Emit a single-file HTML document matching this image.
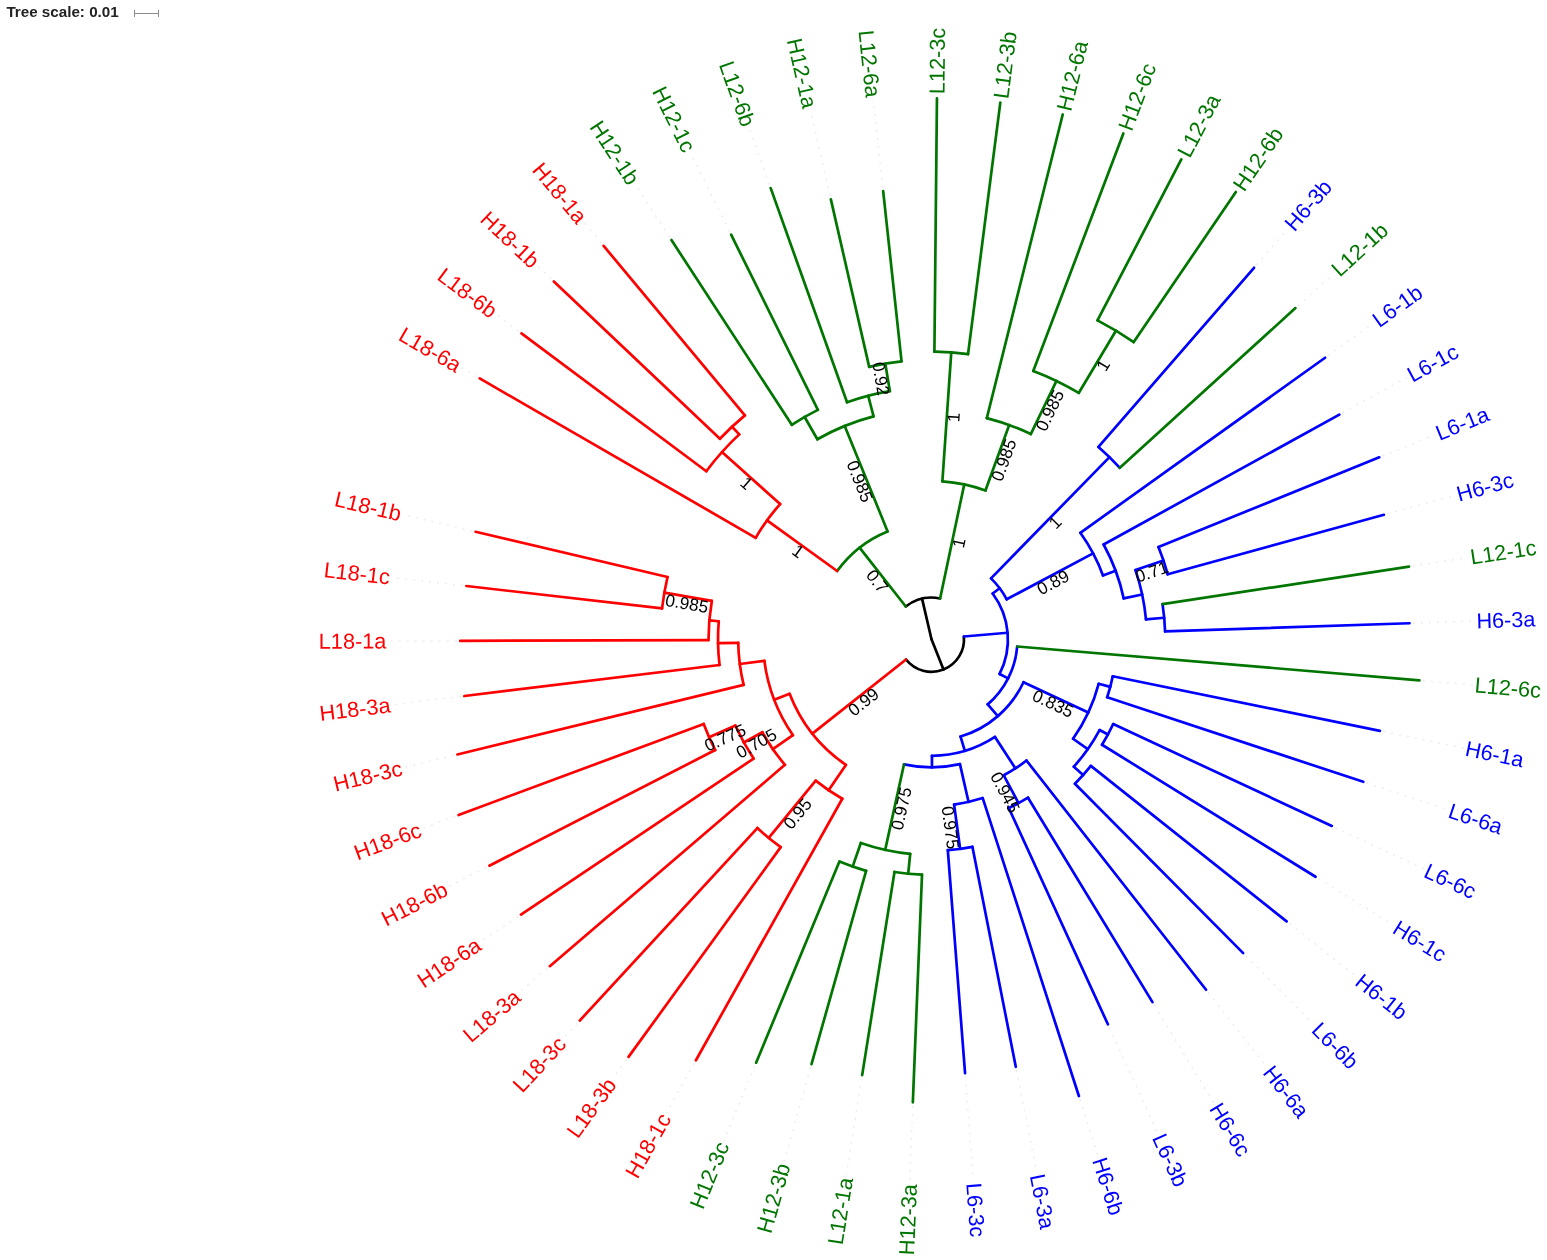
<!DOCTYPE html>
<html><head><meta charset="utf-8"><title>Tree</title>
<style>html,body{margin:0;padding:0;background:#fff}svg{display:block}</style>
</head><body>
<svg width="1547" height="1260" viewBox="0 0 1547 1260">
<rect width="1547" height="1260" fill="#fff"/>
<text x="6.4" y="16.8" font-family="'Liberation Sans',Arial,sans-serif" font-size="15.2" font-weight="bold" fill="#222">Tree scale: 0.01</text>
<path d="M134 13.5H159M134.5 10V17M158.5 10V17" stroke="#8c8c8c" stroke-width="1" fill="none"/>
<g stroke="#ededed" stroke-width="1.5" stroke-dasharray="2 6" fill="none">
<path d="M476.66 376.7L461.08 367.7"/>
<path d="M518.67 331.24L496.15 314.44"/>
<path d="M551.31 279L537.23 265.65"/>
<path d="M601.41 243.22L583.74 222.02"/>
<path d="M669.53 237.09L635.04 184.13"/>
<path d="M729.57 231.56L690.43 152.52"/>
<path d="M769.52 184.8L749.15 127.62"/>
<path d="M830.08 195.95L810.37 109.78"/>
<path d="M882.8 187.62L873.27 99.23"/>
<path d="M1256.33 265.12L1287.6 229.1"/>
<path d="M1298.02 305.71L1333.22 273.67"/>
<path d="M1327.92 355.73L1373.3 323.27"/>
<path d="M1342.39 412.98L1407.3 377.23"/>
<path d="M1382.48 456.03L1434.74 434.8"/>
<path d="M1387.26 513.89L1455.24 495.19"/>
<path d="M1412.46 566.1L1468.52 557.57"/>
<path d="M1413.03 623.13L1474.39 621.07"/>
<path d="M1422.87 680.63L1472.79 684.83"/>
<path d="M1383.38 731.55L1463.72 747.95"/>
<path d="M1366.6 782.94L1447.32 809.58"/>
<path d="M1334.99 827.45L1423.81 868.87"/>
<path d="M1318.49 878.6L1393.51 924.98"/>
<path d="M1289.34 923.55L1356.84 977.16"/>
<path d="M1245.67 955.58L1314.31 1024.69"/>
<path d="M1208.22 992.51L1266.5 1066.9"/>
<path d="M1154.3 1005.09L1214.08 1103.21"/>
<path d="M1109.36 1027.5L1157.76 1133.14"/>
<path d="M1079.95 1099.34L1098.32 1156.25"/>
<path d="M1016.46 1070.2L1036.58 1172.24"/>
<path d="M965.33 1076.69L973.39 1180.88"/>
<path d="M912.7 1105.82L909.63 1182.06"/>
<path d="M861.62 1078.58L846.16 1175.76"/>
<path d="M810.57 1067.55L783.88 1162.06"/>
<path d="M754.78 1065.95L723.63 1141.15"/>
<path d="M694.22 1063.33L666.24 1113.33"/>
<path d="M626.49 1059.71L612.51 1078.97"/>
<path d="M577.42 1023.12L563.18 1038.56"/>
<path d="M547.18 968.44L518.92 992.63"/>
<path d="M518.06 916.56L480.35 941.84"/>
<path d="M486.28 867.28L448 886.88"/>
<path d="M455.31 816.25L422.32 828.51"/>
<path d="M453.99 755.3L403.65 767.53"/>
<path d="M460.86 696.45L392.26 704.78"/>
<path d="M456.7 640.89L388.3 641.12"/>
<path d="M462.87 585.59L391.83 577.45"/>
<path d="M472.2 530.99L402.8 514.62"/>
</g>
<g fill="none" stroke-width="2.7" stroke-linecap="round" stroke-linejoin="round">
<path d="M931.5 639.3L922.05 598.68" stroke="#000000"/>
<path d="M905.76 606.5A41.7 41.7 0 0 1 940.12 598.5" stroke="#000000"/>
<path d="M905.76 606.5L859.58 547.65" stroke="#007600"/>
<path d="M837.12 571.01A116.5 116.5 0 0 1 887.6 531.39" stroke="#007600"/>
<path d="M837.12 571.01L767.04 520.3" stroke="#ff0000"/>
<path d="M755.7 537.8A203 203 0 0 1 780.12 504.05" stroke="#ff0000"/>
<path d="M755.7 537.8L479.69 378.45" stroke="#ff0000"/>
<path d="M780.12 504.05L721.95 452.08" stroke="#ff0000"/>
<path d="M706.29 471.25A281 281 0 0 1 739.24 434.37" stroke="#ff0000"/>
<path d="M706.29 471.25L521.48 333.33" stroke="#ff0000"/>
<path d="M739.24 434.37L732.05 426.71" stroke="#ff0000"/>
<path d="M719.92 438.79A291.5 291.5 0 0 1 744.88 415.37" stroke="#ff0000"/>
<path d="M719.92 438.79L553.85 281.4" stroke="#ff0000"/>
<path d="M744.88 415.37L603.65 245.91" stroke="#ff0000"/>
<path d="M887.6 531.39L844.71 425.98" stroke="#007600"/>
<path d="M817.36 439.28A230.3 230.3 0 0 1 873.58 416.4" stroke="#007600"/>
<path d="M817.36 439.28L804.62 416.96" stroke="#007600"/>
<path d="M791.78 424.79A256 256 0 0 1 817.89 409.89" stroke="#007600"/>
<path d="M791.78 424.79L671.44 240.02" stroke="#007600"/>
<path d="M817.89 409.89L731.13 234.7" stroke="#007600"/>
<path d="M873.58 416.4L868.22 395.79" stroke="#007600"/>
<path d="M847.04 402.3A251.6 251.6 0 0 1 889.89 391.16" stroke="#007600"/>
<path d="M847.04 402.3L770.7 188.1" stroke="#007600"/>
<path d="M889.89 391.16L885.28 363.65" stroke="#007600"/>
<path d="M869.17 366.84A279.5 279.5 0 0 1 901.54 361.41" stroke="#007600"/>
<path d="M869.17 366.84L830.87 199.36" stroke="#007600"/>
<path d="M901.54 361.41L883.17 191.1" stroke="#007600"/>
<path d="M940.12 598.5L964.24 484.42" stroke="#007600"/>
<path d="M942.38 481.37A158.3 158.3 0 0 1 985.45 490.48" stroke="#007600"/>
<path d="M942.38 481.37L951.27 352.38" stroke="#007600"/>
<path d="M934.4 351.71A287.6 287.6 0 0 1 968.08 354.04" stroke="#007600"/>
<path d="M934.4 351.71L936.95 98.33" stroke="#007600"/>
<path d="M968.08 354.04L1000.31 102.69" stroke="#007600"/>
<path d="M985.45 490.48L1009.21 424.95" stroke="#007600"/>
<path d="M986.81 418.11A228 228 0 0 1 1030.79 434.06" stroke="#007600"/>
<path d="M986.81 418.11L1062.73 114.46" stroke="#007600"/>
<path d="M1030.79 434.06L1056.49 380.95" stroke="#007600"/>
<path d="M1033.27 370.95A287 287 0 0 1 1078.74 392.95" stroke="#007600"/>
<path d="M1033.27 370.95L1123.34 133.46" stroke="#007600"/>
<path d="M1078.74 392.95L1115.93 330.71" stroke="#007600"/>
<path d="M1097.5 320.42A359.5 359.5 0 0 1 1133.73 342.07" stroke="#007600"/>
<path d="M1097.5 320.42L1181.31 159.43" stroke="#007600"/>
<path d="M1133.73 342.07L1235.83 192.01" stroke="#007600"/>
<path d="M931.5 639.3L943.49 669.51" stroke="#000000"/>
<path d="M963.88 636.51A32.5 32.5 0 0 1 906.02 659.47" stroke="#000000"/>
<path d="M963.88 636.51L1007.62 632.75" stroke="#0000ff"/>
<path d="M992.64 593.49A76.4 76.4 0 0 1 999.57 673.98" stroke="#0000ff"/>
<path d="M992.64 593.49L999.69 588.22" stroke="#0000ff"/>
<path d="M991.03 578.35A85.2 85.2 0 0 1 1006.72 599.29" stroke="#0000ff"/>
<path d="M991.03 578.35L1109.47 457.1" stroke="#0000ff"/>
<path d="M1098.47 446.96A254.7 254.7 0 0 1 1119.86 467.86" stroke="#0000ff"/>
<path d="M1098.47 446.96L1254.03 267.77" stroke="#0000ff"/>
<path d="M1119.86 467.86L1295.43 308.06" stroke="#007600"/>
<path d="M1006.72 599.29L1093.07 553.37" stroke="#0000ff"/>
<path d="M1080.34 532.83A183 183 0 0 1 1102.99 575.41" stroke="#0000ff"/>
<path d="M1080.34 532.83L1325.07 357.77" stroke="#0000ff"/>
<path d="M1102.99 575.41L1115.64 570.7" stroke="#0000ff"/>
<path d="M1103.62 544.5A196.5 196.5 0 0 1 1123.69 598.38" stroke="#0000ff"/>
<path d="M1103.62 544.5L1339.33 414.67" stroke="#0000ff"/>
<path d="M1123.69 598.38L1142.18 594.45" stroke="#0000ff"/>
<path d="M1135.47 570.06A215.4 215.4 0 0 1 1145.98 619.45" stroke="#0000ff"/>
<path d="M1135.47 570.06L1163.5 560.55" stroke="#0000ff"/>
<path d="M1158.47 547.06A245 245 0 0 1 1167.72 574.3" stroke="#0000ff"/>
<path d="M1158.47 547.06L1379.24 457.35" stroke="#0000ff"/>
<path d="M1167.72 574.3L1383.89 514.82" stroke="#0000ff"/>
<path d="M1145.98 619.45L1164.21 617.76" stroke="#0000ff"/>
<path d="M1162.54 604.14A233.7 233.7 0 0 1 1165.07 631.46" stroke="#0000ff"/>
<path d="M1162.54 604.14L1409 566.63" stroke="#007600"/>
<path d="M1165.07 631.46L1409.53 623.25" stroke="#0000ff"/>
<path d="M999.57 673.98L1008.13 678.34" stroke="#0000ff"/>
<path d="M1017.2 646.51A86 86 0 0 1 987.71 704.39" stroke="#0000ff"/>
<path d="M1017.2 646.51L1419.38 680.33" stroke="#007600"/>
<path d="M987.71 704.39L997.84 716.12" stroke="#0000ff"/>
<path d="M1023.49 682.2A101.5 101.5 0 0 1 960.54 736.56" stroke="#0000ff"/>
<path d="M1023.49 682.2L1088.29 712.41" stroke="#0000ff"/>
<path d="M1098.68 683.8A173 173 0 0 1 1073.05 738.77" stroke="#0000ff"/>
<path d="M1098.68 683.8L1110.28 686.88" stroke="#0000ff"/>
<path d="M1112.76 676.3A185 185 0 0 1 1107.17 697.29" stroke="#0000ff"/>
<path d="M1112.76 676.3L1379.95 730.85" stroke="#0000ff"/>
<path d="M1107.17 697.29L1363.28 781.84" stroke="#0000ff"/>
<path d="M1073.05 738.77L1087.77 749.12" stroke="#0000ff"/>
<path d="M1099.57 730.04A191 191 0 0 1 1073.83 766.67" stroke="#0000ff"/>
<path d="M1099.57 730.04L1107.93 734.56" stroke="#0000ff"/>
<path d="M1113.21 724.03A200.5 200.5 0 0 1 1102.03 744.75" stroke="#0000ff"/>
<path d="M1113.21 724.03L1331.82 825.97" stroke="#0000ff"/>
<path d="M1102.03 744.75L1315.51 876.76" stroke="#0000ff"/>
<path d="M1073.83 766.67L1083.14 775.01" stroke="#0000ff"/>
<path d="M1090.85 765.87A203.5 203.5 0 0 1 1074.91 783.68" stroke="#0000ff"/>
<path d="M1090.85 765.87L1286.6 921.37" stroke="#0000ff"/>
<path d="M1074.91 783.68L1243.2 953.1" stroke="#0000ff"/>
<path d="M960.54 736.56L964.83 750.93" stroke="#0000ff"/>
<path d="M995 736.97A116.5 116.5 0 0 1 931.94 755.8" stroke="#0000ff"/>
<path d="M995 736.97L1015.44 768.41" stroke="#0000ff"/>
<path d="M1026.47 760.53A154 154 0 0 1 1003.75 775.3" stroke="#0000ff"/>
<path d="M1026.47 760.53L1206.06 989.75" stroke="#0000ff"/>
<path d="M1003.75 775.3L1018.53 803.12" stroke="#0000ff"/>
<path d="M1028 797.72A185.5 185.5 0 0 1 1008.77 807.94" stroke="#0000ff"/>
<path d="M1028 797.72L1152.48 1002.1" stroke="#0000ff"/>
<path d="M1008.77 807.94L1107.9 1024.31" stroke="#0000ff"/>
<path d="M931.94 755.8L931.98 767.3" stroke="#0000ff"/>
<path d="M959.94 764.1A128 128 0 0 1 904.01 764.31" stroke="#0000ff"/>
<path d="M959.94 764.1L968.56 801.93" stroke="#0000ff"/>
<path d="M982.72 798.04A166.8 166.8 0 0 1 954.1 804.56" stroke="#0000ff"/>
<path d="M982.72 798.04L1078.88 1096.01" stroke="#0000ff"/>
<path d="M954.1 804.56L960.16 848.85" stroke="#0000ff"/>
<path d="M972.41 846.81A211.5 211.5 0 0 1 947.81 850.17" stroke="#0000ff"/>
<path d="M972.41 846.81L1015.78 1066.77" stroke="#0000ff"/>
<path d="M947.81 850.17L965.06 1073.2" stroke="#0000ff"/>
<path d="M904.01 764.31L885.19 849.87" stroke="#007600"/>
<path d="M910.19 853.84A215.6 215.6 0 0 1 860.83 842.99" stroke="#007600"/>
<path d="M910.19 853.84L908.21 873.75" stroke="#007600"/>
<path d="M922.01 874.71A235.6 235.6 0 0 1 894.49 871.97" stroke="#007600"/>
<path d="M922.01 874.71L912.84 1102.32" stroke="#007600"/>
<path d="M894.49 871.97L862.17 1075.12" stroke="#007600"/>
<path d="M860.83 842.99L852.63 866.61" stroke="#007600"/>
<path d="M866.11 870.84A240.6 240.6 0 0 1 839.43 861.59" stroke="#007600"/>
<path d="M866.11 870.84L811.52 1064.18" stroke="#007600"/>
<path d="M839.43 861.59L756.12 1062.71" stroke="#007600"/>
<path d="M906.02 659.47L812.33 733.65" stroke="#ff0000"/>
<path d="M845.89 764.9A152 152 0 0 1 789.61 693.81" stroke="#ff0000"/>
<path d="M845.89 764.9L828.6 790.27" stroke="#ff0000"/>
<path d="M842.28 798.73A182.7 182.7 0 0 1 815.71 780.63" stroke="#ff0000"/>
<path d="M842.28 798.73L695.93 1060.27" stroke="#ff0000"/>
<path d="M815.71 780.63L768.75 837.95" stroke="#ff0000"/>
<path d="M780.7 847.16A256.8 256.8 0 0 1 757.37 828.05" stroke="#ff0000"/>
<path d="M780.7 847.16L628.54 1056.88" stroke="#ff0000"/>
<path d="M757.37 828.05L579.79 1020.55" stroke="#ff0000"/>
<path d="M789.61 693.81L774.21 699.73" stroke="#ff0000"/>
<path d="M792.95 735.19A168.5 168.5 0 0 1 764.38 660.84" stroke="#ff0000"/>
<path d="M792.95 735.19L772.8 749.14" stroke="#ff0000"/>
<path d="M784.91 764.84A193 193 0 0 1 762.37 732.27" stroke="#ff0000"/>
<path d="M784.91 764.84L549.83 966.16" stroke="#ff0000"/>
<path d="M762.37 732.27L743.79 742.49" stroke="#ff0000"/>
<path d="M753.6 758.6A214.2 214.2 0 0 1 735.44 725.57" stroke="#ff0000"/>
<path d="M753.6 758.6L520.97 914.61" stroke="#ff0000"/>
<path d="M735.44 725.57L709.08 737.17" stroke="#ff0000"/>
<path d="M715.21 750.06A243 243 0 0 1 703.72 723.94" stroke="#ff0000"/>
<path d="M715.21 750.06L489.39 865.69" stroke="#ff0000"/>
<path d="M703.72 723.94L458.59 815.03" stroke="#ff0000"/>
<path d="M764.38 660.84L739.79 664.01" stroke="#ff0000"/>
<path d="M743.66 684.93A193.3 193.3 0 0 1 738.23 642.79" stroke="#ff0000"/>
<path d="M743.66 684.93L457.39 754.47" stroke="#ff0000"/>
<path d="M738.23 642.79L718.03 643.15" stroke="#ff0000"/>
<path d="M719.56 665.03A213.5 213.5 0 0 1 718.77 621.23" stroke="#ff0000"/>
<path d="M719.56 665.03L464.33 696.02" stroke="#ff0000"/>
<path d="M718.77 621.23L709.3 620.42" stroke="#ff0000"/>
<path d="M708.5 640.05A223 223 0 0 1 711.82 600.95" stroke="#ff0000"/>
<path d="M708.5 640.05L460.2 640.88" stroke="#ff0000"/>
<path d="M711.82 600.95L664.34 592.65" stroke="#ff0000"/>
<path d="M662.06 608.42A271.2 271.2 0 0 1 667.54 577.05" stroke="#ff0000"/>
<path d="M662.06 608.42L466.35 585.99" stroke="#ff0000"/>
<path d="M667.54 577.05L475.61 531.79" stroke="#ff0000"/>
</g>
<g font-family="'Liberation Sans',Arial,sans-serif" font-size="21.7">
<text transform="translate(459.34 366.7) rotate(30)" text-anchor="end" dy="7.4" fill="#ff0000">L18-6a</text>
<text transform="translate(494.55 313.24) rotate(36.73)" text-anchor="end" dy="7.4" fill="#ff0000">L18-6b</text>
<text transform="translate(535.77 264.27) rotate(43.46)" text-anchor="end" dy="7.4" fill="#ff0000">H18-1b</text>
<text transform="translate(582.46 220.48) rotate(50.19)" text-anchor="end" dy="7.4" fill="#ff0000">H18-1a</text>
<text transform="translate(633.95 182.46) rotate(56.92)" text-anchor="end" dy="7.4" fill="#007600">H12-1b</text>
<text transform="translate(689.54 150.73) rotate(63.65)" text-anchor="end" dy="7.4" fill="#007600">H12-1c</text>
<text transform="translate(748.47 125.74) rotate(70.38)" text-anchor="end" dy="7.4" fill="#007600">L12-6b</text>
<text transform="translate(809.93 107.83) rotate(77.12)" text-anchor="end" dy="7.4" fill="#007600">H12-1a</text>
<text transform="translate(873.06 97.24) rotate(83.85)" text-anchor="end" dy="7.4" fill="#007600">L12-6a</text>
<text transform="translate(936.99 94.13) rotate(270.58)" text-anchor="start" dy="7.4" fill="#007600">L12-3c</text>
<text transform="translate(1000.85 98.53) rotate(277.31)" text-anchor="start" dy="7.4" fill="#007600">L12-3b</text>
<text transform="translate(1063.75 110.38) rotate(284.04)" text-anchor="start" dy="7.4" fill="#007600">H12-6a</text>
<text transform="translate(1124.83 129.53) rotate(290.77)" text-anchor="start" dy="7.4" fill="#007600">H12-6c</text>
<text transform="translate(1183.25 155.7) rotate(297.5)" text-anchor="start" dy="7.4" fill="#007600">L12-3a</text>
<text transform="translate(1238.19 188.54) rotate(304.23)" text-anchor="start" dy="7.4" fill="#007600">H12-6b</text>
<text transform="translate(1288.91 227.59) rotate(310.96)" text-anchor="start" dy="7.4" fill="#0000ff">H6-3b</text>
<text transform="translate(1334.7 272.32) rotate(317.69)" text-anchor="start" dy="7.4" fill="#007600">L12-1b</text>
<text transform="translate(1374.93 322.11) rotate(324.42)" text-anchor="start" dy="7.4" fill="#0000ff">L6-1b</text>
<text transform="translate(1409.05 376.26) rotate(331.15)" text-anchor="start" dy="7.4" fill="#0000ff">L6-1c</text>
<text transform="translate(1436.59 434.05) rotate(337.88)" text-anchor="start" dy="7.4" fill="#0000ff">L6-1a</text>
<text transform="translate(1457.16 494.66) rotate(344.62)" text-anchor="start" dy="7.4" fill="#0000ff">H6-3c</text>
<text transform="translate(1470.49 557.27) rotate(351.35)" text-anchor="start" dy="7.4" fill="#007600">L12-1c</text>
<text transform="translate(1476.39 621) rotate(358.08)" text-anchor="start" dy="7.4" fill="#0000ff">H6-3a</text>
<text transform="translate(1474.78 684.99) rotate(4.81)" text-anchor="start" dy="7.4" fill="#007600">L12-6c</text>
<text transform="translate(1465.68 748.35) rotate(11.54)" text-anchor="start" dy="7.4" fill="#0000ff">H6-1a</text>
<text transform="translate(1449.22 810.21) rotate(18.27)" text-anchor="start" dy="7.4" fill="#0000ff">L6-6a</text>
<text transform="translate(1425.62 869.71) rotate(25)" text-anchor="start" dy="7.4" fill="#0000ff">L6-6c</text>
<text transform="translate(1395.21 926.04) rotate(31.73)" text-anchor="start" dy="7.4" fill="#0000ff">H6-1c</text>
<text transform="translate(1358.41 978.41) rotate(38.46)" text-anchor="start" dy="7.4" fill="#0000ff">H6-1b</text>
<text transform="translate(1315.72 1026.11) rotate(45.19)" text-anchor="start" dy="7.4" fill="#0000ff">L6-6b</text>
<text transform="translate(1267.74 1068.47) rotate(51.92)" text-anchor="start" dy="7.4" fill="#0000ff">H6-6a</text>
<text transform="translate(1215.12 1104.92) rotate(58.65)" text-anchor="start" dy="7.4" fill="#0000ff">H6-6c</text>
<text transform="translate(1158.59 1134.95) rotate(65.38)" text-anchor="start" dy="7.4" fill="#0000ff">L6-3b</text>
<text transform="translate(1098.93 1158.15) rotate(72.12)" text-anchor="start" dy="7.4" fill="#0000ff">H6-6b</text>
<text transform="translate(1036.97 1174.2) rotate(78.85)" text-anchor="start" dy="7.4" fill="#0000ff">L6-3a</text>
<text transform="translate(973.55 1182.88) rotate(85.58)" text-anchor="start" dy="7.4" fill="#0000ff">L6-3c</text>
<text transform="translate(909.55 1184.06) rotate(-87.69)" text-anchor="end" dy="7.4" fill="#007600">H12-3a</text>
<text transform="translate(845.85 1177.73) rotate(-80.96)" text-anchor="end" dy="7.4" fill="#007600">L12-1a</text>
<text transform="translate(783.33 1163.98) rotate(-74.23)" text-anchor="end" dy="7.4" fill="#007600">H12-3b</text>
<text transform="translate(722.86 1143) rotate(-67.5)" text-anchor="end" dy="7.4" fill="#007600">H12-3c</text>
<text transform="translate(665.26 1115.07) rotate(-60.77)" text-anchor="end" dy="7.4" fill="#ff0000">H18-1c</text>
<text transform="translate(611.34 1080.59) rotate(-54.04)" text-anchor="end" dy="7.4" fill="#ff0000">L18-3b</text>
<text transform="translate(561.82 1040.03) rotate(-47.31)" text-anchor="end" dy="7.4" fill="#ff0000">L18-3c</text>
<text transform="translate(517.4 993.94) rotate(-40.58)" text-anchor="end" dy="7.4" fill="#ff0000">L18-3a</text>
<text transform="translate(478.69 942.96) rotate(-33.85)" text-anchor="end" dy="7.4" fill="#ff0000">H18-6a</text>
<text transform="translate(446.22 887.79) rotate(-27.12)" text-anchor="end" dy="7.4" fill="#ff0000">H18-6b</text>
<text transform="translate(420.44 829.2) rotate(-20.38)" text-anchor="end" dy="7.4" fill="#ff0000">H18-6c</text>
<text transform="translate(401.71 768) rotate(-13.65)" text-anchor="end" dy="7.4" fill="#ff0000">H18-3c</text>
<text transform="translate(390.28 705.02) rotate(-6.92)" text-anchor="end" dy="7.4" fill="#ff0000">H18-3a</text>
<text transform="translate(386.3 641.13) rotate(-0.19)" text-anchor="end" dy="7.4" fill="#ff0000">L18-1a</text>
<text transform="translate(389.85 577.22) rotate(6.54)" text-anchor="end" dy="7.4" fill="#ff0000">L18-1c</text>
<text transform="translate(400.86 514.16) rotate(13.27)" text-anchor="end" dy="7.4" fill="#ff0000">L18-1b</text>
</g>
<g font-family="'Liberation Sans',Arial,sans-serif" font-size="17.3" fill="#000" text-anchor="middle">
<text transform="translate(882.67 577.07) rotate(51.88)" dy="12.8">0.7</text>
<text transform="translate(802.08 545.65) rotate(35.89)" dy="12.8">1</text>
<text transform="translate(751.04 478.07) rotate(41.78)" dy="12.8">1</text>
<text transform="translate(866.15 478.68) rotate(67.86)" dy="12.8">0.985</text>
<text transform="translate(887.58 377.41) rotate(80.48)" dy="12.8">0.92</text>
<text transform="translate(952.18 541.46) rotate(281.94)" dy="12.8">1</text>
<text transform="translate(946.83 416.88) rotate(273.94)" dy="12.8">1</text>
<text transform="translate(997.33 457.72) rotate(289.93)" dy="12.8">0.985</text>
<text transform="translate(1043.64 407.5) rotate(295.82)" dy="12.8">0.985</text>
<text transform="translate(1097.33 361.83) rotate(300.87)" dy="12.8">1</text>
<text transform="translate(1050.25 517.72) rotate(314.33)" dy="12.8">1</text>
<text transform="translate(1049.9 576.33) rotate(332)" dy="12.8">0.89</text>
<text transform="translate(1149.48 565.3) rotate(341.25)" dy="12.8">0.71</text>
<text transform="translate(1055.89 697.3) rotate(25)" dy="12.8">0.835</text>
<text transform="translate(1011.14 789.21) rotate(62.02)" dy="12.8">0.945</text>
<text transform="translate(957.13 826.71) rotate(82.21)" dy="12.8">0.975</text>
<text transform="translate(894.6 807.09) rotate(-77.6)" dy="12.8">0.975</text>
<text transform="translate(859.17 696.56) rotate(-38.37)" dy="12.8">0.99</text>
<text transform="translate(792.23 809.29) rotate(-50.67)" dy="12.8">0.95</text>
<text transform="translate(753.08 737.38) rotate(-28.8)" dy="12.8">0.705</text>
<text transform="translate(722.26 731.37) rotate(-23.75)" dy="12.8">0.775</text>
<text transform="translate(688.08 596.8) rotate(9.9)" dy="12.8">0.985</text>
</g>
</svg>
</body></html>
